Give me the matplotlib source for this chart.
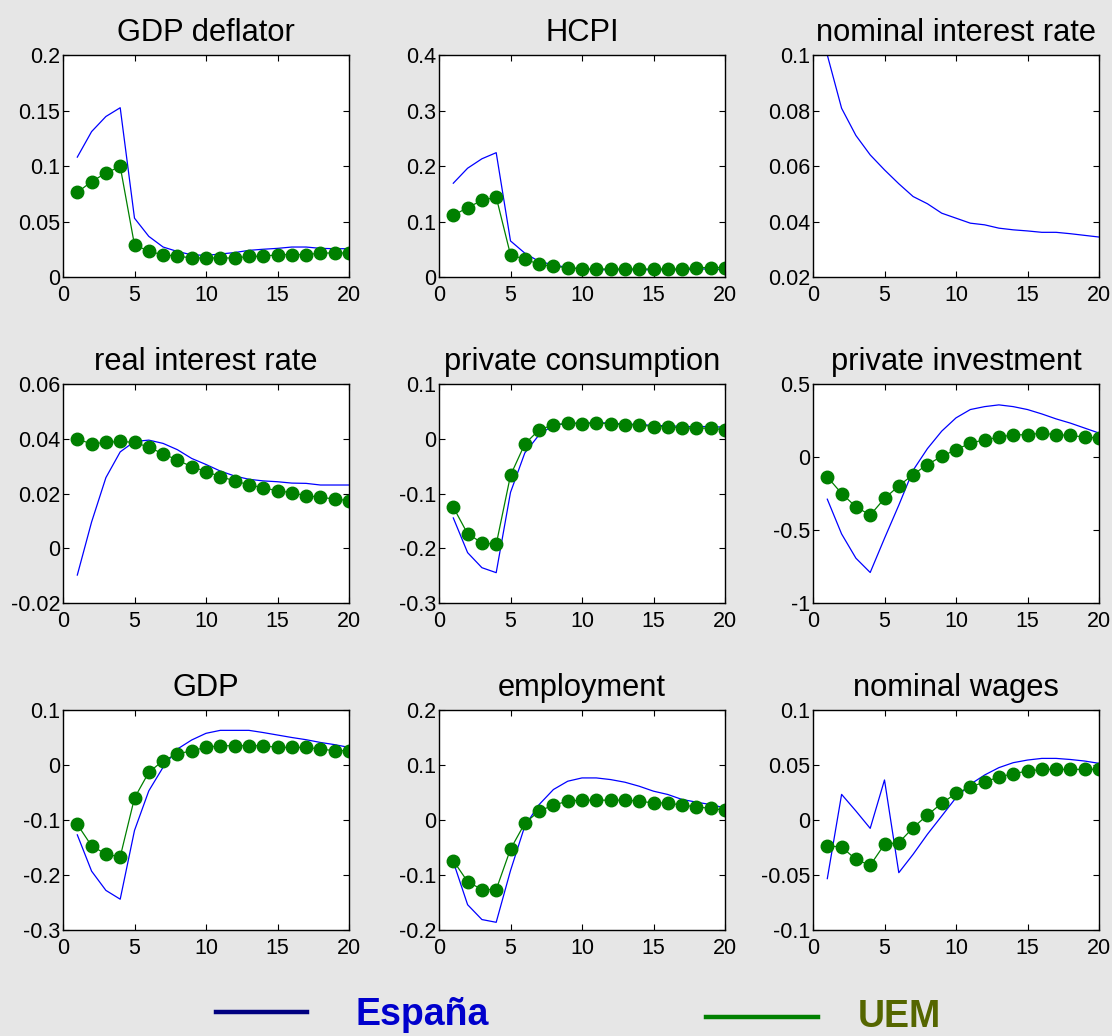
import matplotlib
matplotlib.use("Agg")
import matplotlib.pyplot as plt
from matplotlib.lines import Line2D
from matplotlib.ticker import FuncFormatter, MultipleLocator

plt.rcParams['font.family'] = ['Liberation Sans', 'DejaVu Sans']

periods = list(range(1, 21))

titles = ["GDP deflator", "HCPI", "nominal interest rate",
          "real interest rate", "private consumption", "private investment",
          "GDP", "employment", "nominal wages"]

# España (blue line)
esp_gdp_deflator = [0.108, 0.131, 0.1446, 0.1525, 0.053, 0.0366, 0.027, 0.023, 0.020, 0.0195,
                    0.0207, 0.022, 0.024, 0.025, 0.0258, 0.027, 0.027, 0.0258, 0.0255, 0.0255]
esp_hcpi = [0.169, 0.196, 0.213, 0.224, 0.065, 0.043, 0.028, 0.022, 0.017, 0.0144,
            0.013, 0.013, 0.013, 0.013, 0.013, 0.013, 0.013, 0.0144, 0.0144, 0.013]
esp_nominal_rate = [0.100, 0.0808, 0.0710, 0.0640, 0.0586, 0.0536, 0.0490, 0.0464, 0.0430, 0.0412,
                    0.0394, 0.0388, 0.0376, 0.0370, 0.0366, 0.0361, 0.0361, 0.0356, 0.0350, 0.0344]
esp_real_rate = [-0.0098, 0.0096, 0.0258, 0.0352, 0.039, 0.0395, 0.0383, 0.036, 0.0328, 0.0306,
                 0.0282, 0.0264, 0.0252, 0.0246, 0.0243, 0.0238, 0.0237, 0.0231, 0.0231, 0.0231]
esp_consumption = [-0.1446, -0.208, -0.2355, -0.2446, -0.098, -0.026, 0.0072, 0.025, 0.0277, 0.029,
                   0.029, 0.029, 0.0265, 0.0265, 0.024, 0.024, 0.0223, 0.0223, 0.0223, 0.021]
esp_investment = [-0.289, -0.527, -0.693, -0.791, -0.557, -0.33, -0.091, 0.057, 0.177, 0.268,
                  0.325, 0.345, 0.357, 0.345, 0.325, 0.295, 0.261, 0.232, 0.198, 0.164]
esp_gdp = [-0.127, -0.193, -0.228, -0.244, -0.119, -0.047, -0.004, 0.029, 0.0455, 0.0576,
           0.063, 0.063, 0.063, 0.059, 0.0545, 0.050, 0.046, 0.041, 0.037, 0.032]
esp_employment = [-0.076, -0.154, -0.181, -0.186, -0.092, -0.011, 0.028, 0.0554, 0.0705, 0.0765,
                  0.0765, 0.0735, 0.0687, 0.0614, 0.0524, 0.0464, 0.0373, 0.0325, 0.028, 0.022]
esp_wages = [-0.0533, 0.0233, 0.0082, -0.0076, 0.0364, -0.0479, -0.0312, -0.013, 0.0036, 0.0203,
             0.0324, 0.0409, 0.0476, 0.0521, 0.0545, 0.056, 0.056, 0.055, 0.0536, 0.0515]

# UEM (green line with markers)
uem_gdp_deflator = [0.0762, 0.086, 0.0936, 0.0996, 0.0288, 0.0234, 0.0198, 0.0189, 0.0171, 0.0171,
                    0.0171, 0.0171, 0.0186, 0.0186, 0.0201, 0.0201, 0.0201, 0.0216, 0.0216, 0.0216]
uem_hcpi = [0.111, 0.125, 0.138, 0.144, 0.040, 0.032, 0.023, 0.019, 0.017, 0.0144,
            0.0144, 0.0144, 0.0144, 0.0144, 0.0144, 0.0144, 0.0144, 0.017, 0.017, 0.017]
uem_nominal_rate = None
uem_real_rate = [0.0399, 0.0381, 0.0387, 0.039, 0.0387, 0.0369, 0.0345, 0.0322, 0.0298, 0.028,
                 0.0262, 0.0246, 0.0232, 0.0221, 0.021, 0.0203, 0.0192, 0.0186, 0.018, 0.0174]
uem_consumption = [-0.125, -0.1735, -0.190, -0.193, -0.0669, -0.0096, 0.0163, 0.0253, 0.0283, 0.0277,
                   0.0283, 0.0277, 0.0253, 0.0253, 0.0223, 0.0223, 0.0193, 0.0193, 0.0193, 0.0163]
uem_investment = [-0.136, -0.25, -0.341, -0.398, -0.284, -0.198, -0.12, -0.052, 0.0045, 0.05,
                  0.095, 0.118, 0.136, 0.152, 0.152, 0.164, 0.152, 0.148, 0.136, 0.13]
uem_gdp = [-0.108, -0.147, -0.162, -0.167, -0.06, -0.0133, 0.0079, 0.02, 0.026, 0.032,
           0.035, 0.035, 0.035, 0.035, 0.032, 0.032, 0.032, 0.029, 0.026, 0.026]
uem_employment = [-0.074, -0.112, -0.1265, -0.1265, -0.053, -0.006, 0.0163, 0.027, 0.0343, 0.036,
                  0.036, 0.036, 0.036, 0.0343, 0.031, 0.031, 0.027, 0.024, 0.021, 0.018]
uem_wages = [-0.0236, -0.0245, -0.0358, -0.0412, -0.0221, -0.0206, -0.007, 0.0045, 0.0152, 0.0242,
             0.030, 0.0345, 0.0391, 0.0421, 0.0445, 0.046, 0.046, 0.046, 0.046, 0.046]

esp_series = [esp_gdp_deflator, esp_hcpi, esp_nominal_rate, esp_real_rate, esp_consumption,
              esp_investment, esp_gdp, esp_employment, esp_wages]
uem_series = [uem_gdp_deflator, uem_hcpi, uem_nominal_rate, uem_real_rate, uem_consumption,
              uem_investment, uem_gdp, uem_employment, uem_wages]

ylims = [(0, 0.2), (0, 0.4), (0.02, 0.1), (-0.02, 0.06), (-0.3, 0.1), (-1, 0.5),
         (-0.3, 0.1), (-0.2, 0.2), (-0.1, 0.1)]
ysteps = [0.05, 0.1, 0.02, 0.02, 0.1, 0.5, 0.1, 0.1, 0.05]

legend_labels = ["España", "UEM"]

W, H = 1112, 1036
fig = plt.figure(figsize=(W / 100, H / 100), dpi=100)
fig.patch.set_facecolor('#e6e6e6')

col_left = [63, 439, 813]
col_w = 286
row_top = [55, 384, 710]
row_h = [222, 219, 220]

fmt = FuncFormatter(lambda v, p: ('%g' % round(v, 6)))

for i in range(9):
    r, c = divmod(i, 3)
    ax = fig.add_axes([col_left[c] / W, 1 - (row_top[r] + row_h[r]) / H, col_w / W, row_h[r] / H])
    ax.set_facecolor('white')
    ax.plot(periods, esp_series[i], color='#0000ff', linewidth=0.9)
    if uem_series[i] is not None:
        ax.plot(periods, uem_series[i], color='#008000', linewidth=0.9,
                marker='o', markersize=9, markerfacecolor='#008000', markeredgecolor='#008000')
    ax.set_xlim(0, 20)
    ax.set_ylim(*ylims[i])
    ax.xaxis.set_major_locator(MultipleLocator(5))
    ax.yaxis.set_major_locator(MultipleLocator(ysteps[i]))
    ax.yaxis.set_major_formatter(fmt)
    ax.tick_params(direction='in', length=4, width=0.8, top=True, right=True,
                   labelsize=15.5, pad=2, colors='black')
    ax.tick_params(axis='x', pad=6)
    for s in ax.spines.values():
        s.set_linewidth(1.0)
        s.set_color('black')
    ax.set_title(titles[i], fontsize=22.2, pad=10)

# Legend at the bottom
fig.add_artist(Line2D([216 / W, 307 / W], [1 - 1012 / H, 1 - 1012 / H],
                      color='#000080', linewidth=3.2, transform=fig.transFigure))
fig.text(356 / W, 1 - 1025 / H, legend_labels[0], color='#0000cc', fontsize=27,
         fontweight='bold', ha='left', va='baseline')
fig.add_artist(Line2D([706 / W, 818 / W], [1 - 1017 / H, 1 - 1017 / H],
                      color='#008000', linewidth=3.2, transform=fig.transFigure))
fig.text(858 / W, 1 / H, legend_labels[1], color='#556600', fontsize=27,
         fontweight='bold', ha='left', va='bottom')

fig.savefig('out.png', dpi=100, facecolor=fig.get_facecolor())
